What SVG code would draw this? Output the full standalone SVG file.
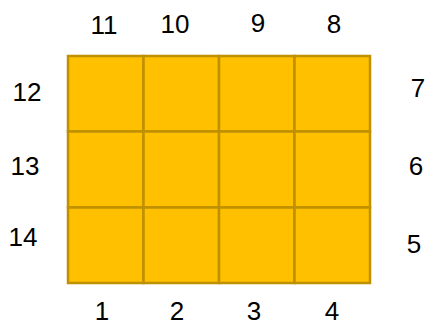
<svg xmlns="http://www.w3.org/2000/svg" width="425" height="326" viewBox="0 0 425 326">
<style>
.cell{fill:#FFC000;stroke:#BF9000;stroke-width:2.5}
.lbl{font-family:"Liberation Sans",Arial,sans-serif;font-size:26px;fill:#000;text-anchor:middle}
</style>
<rect width="425" height="326" fill="#fff"/>
<g id="grid">
<rect class="cell" x="68" y="56" width="75.5" height="75.5"/>
<rect class="cell" x="143.5" y="56" width="75.5" height="75.5"/>
<rect class="cell" x="219" y="56" width="75.5" height="75.5"/>
<rect class="cell" x="294.5" y="56" width="75.5" height="75.5"/>
<rect class="cell" x="68" y="131.5" width="75.5" height="76"/>
<rect class="cell" x="143.5" y="131.5" width="75.5" height="76"/>
<rect class="cell" x="219" y="131.5" width="75.5" height="76"/>
<rect class="cell" x="294.5" y="131.5" width="75.5" height="76"/>
<rect class="cell" x="68" y="207.5" width="75.5" height="75.5"/>
<rect class="cell" x="143.5" y="207.5" width="75.5" height="75.5"/>
<rect class="cell" x="219" y="207.5" width="75.5" height="75.5"/>
<rect class="cell" x="294.5" y="207.5" width="75.5" height="75.5"/>
</g>
<g id="labels" class="lbl">
<text x="102" y="320">1</text>
<text x="177" y="320">2</text>
<text x="254" y="320">3</text>
<text x="332" y="320">4</text>
<text x="414" y="253">5</text>
<text x="416" y="175">6</text>
<text x="418" y="97">7</text>
<text x="334" y="33">8</text>
<text x="258" y="32">9</text>
<text x="175" y="33">10</text>
<text x="104" y="34">11</text>
<text x="27" y="101">12</text>
<text x="25" y="175">13</text>
<text x="23" y="246">14</text>
</g>
</svg>
